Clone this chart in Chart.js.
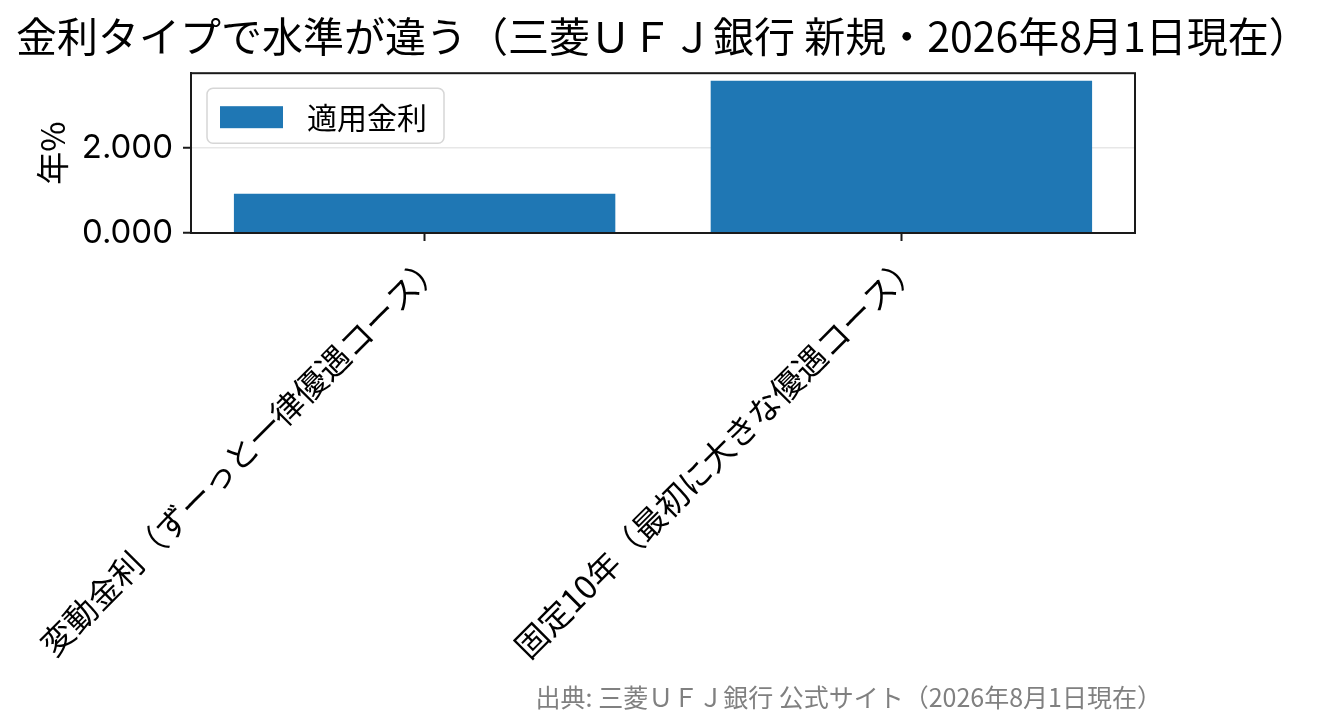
<!DOCTYPE html>
<html><head><meta charset="utf-8">
<script src="https://cdn.jsdelivr.net/npm/chart.js@4"></script>
<style>html,body{margin:0;padding:0;background:#fff;} #wrap{width:1327px;height:725px;position:relative;}</style>
</head><body><div id="wrap"><canvas id="c" width="1327" height="725"></canvas></div>
<script>
const categories = ['変動金利（ずーっと一律優遇コース）', '固定10年（最初に大きな優遇コース）'];
const rates = [0.925, 3.59];
const seriesLabel = '適用金利';
const yTicks = [0, 2];
const titleText = '金利タイプで水準が違う（三菱ＵＦＪ銀行 新規・2026年8月1日現在）';
const yAxisTitle = '年%';
const sourceText = '出典: 三菱ＵＦＪ銀行 公式サイト（2026年8月1日現在）';

const FONT = "'Noto Sans CJK JP', 'Noto Sans', sans-serif";
const NUM_FONT = "Inter, 'Noto Sans CJK JP', sans-serif";
const BAR_COLOR = '#1f77b4';
const SPINE = '#1a1a1a';

const points = categories.map((c, i) => ({x: i, y: rates[i]}));

const framePlugin = {
  id: 'frameAndExtras',
  afterDraw(chart) {
    const ctx = chart.ctx;
    const a = chart.chartArea;
    ctx.save();
    // spines
    ctx.strokeStyle = SPINE;
    ctx.lineWidth = 2;
    ctx.strokeRect(a.left, a.top, a.right - a.left, a.bottom - a.top);
    // legend box
    const lx = a.left + 16, ly = a.top + 15, lw = 237, lh = 55, r = 6;
    ctx.beginPath();
    ctx.moveTo(lx + r, ly);
    ctx.arcTo(lx + lw, ly, lx + lw, ly + lh, r);
    ctx.arcTo(lx + lw, ly + lh, lx, ly + lh, r);
    ctx.arcTo(lx, ly + lh, lx, ly, r);
    ctx.arcTo(lx, ly, lx + lw, ly, r);
    ctx.closePath();
    ctx.fillStyle = 'rgba(255,255,255,0.8)';
    ctx.fill();
    ctx.strokeStyle = '#d6d6d6';
    ctx.lineWidth = 1.5;
    ctx.stroke();
    const ds = chart.data.datasets[0];
    ctx.fillStyle = ds.backgroundColor;
    ctx.fillRect(lx + 13, ly + 18, 63, 22);
    ctx.fillStyle = '#000';
    ctx.font = '30px ' + FONT;
    ctx.textAlign = 'left';
    ctx.textBaseline = 'middle';
    ctx.fillText(ds.label, lx + 100, ly + 29);
    // source note
    ctx.fillStyle = '#808080';
    ctx.font = '25px ' + FONT;
    ctx.textAlign = 'right';
    ctx.fillText(sourceText, 1162, 697);
    ctx.restore();
  }
};

new Chart(document.getElementById('c'), {
  type: 'bar',
  data: {
    datasets: [{
      label: seriesLabel,
      data: points,
      backgroundColor: BAR_COLOR,
      borderWidth: 0,
      barPercentage: 0.8,
      categoryPercentage: 1.0
    }]
  },
  options: {
    responsive: false,
    devicePixelRatio: 1,
    animation: false,
    layout: {padding: {left: 16, right: 10, top: 0, bottom: 0}},
    plugins: {
      legend: {display: false},
      tooltip: {enabled: false},
      title: {
        display: true,
        text: titleText,
        align: 'start',
        color: '#000',
        font: {family: FONT, size: 41, weight: 'normal', lineHeight: 1.2},
        padding: {top: 12, bottom: 12}
      }
    },
    scales: {
      x: {
        type: 'linear',
        min: -0.49,
        max: 1.49,
        offset: false,
        afterBuildTicks(scale) { scale.ticks = categories.map((c, i) => ({value: i})); },
        afterFit(scale) { scale.height = 725 - 233; scale.paddingLeft = 0; scale.paddingRight = 0; },
        grid: {offset: false, drawOnChartArea: false, drawTicks: true, tickLength: 8, tickColor: SPINE, tickWidth: 2},
        border: {display: true, color: SPINE, width: 2},
        ticks: {
          autoSkip: false,
          minRotation: 45,
          maxRotation: 45,
          padding: 4,
          labelOffset: 12,
          color: '#000',
          font: {family: FONT, size: 32.5, lineHeight: 1.2},
          callback: (v) => categories[v]
        }
      },
      y: {
        min: 0,
        max: Math.max(...rates) * 1.05,
        z: 1,
        afterBuildTicks(scale) { scale.ticks = yTicks.map(v => ({value: v})); },
        afterFit(scale) { scale.width = 175; },
        grid: {color: 'rgba(176,176,176,0.3)', lineWidth: 1.5, drawTicks: true, tickLength: 8, tickColor: SPINE, tickWidth: 2},
        border: {display: true, color: SPINE, width: 2},
        ticks: {
          padding: 10,
          color: '#000',
          font: {family: NUM_FONT, size: 33, lineHeight: 1.2},
          callback: (v) => v.toFixed(3)
        },
        title: {
          display: true,
          text: yAxisTitle,
          color: '#000',
          font: {family: FONT, size: 33, lineHeight: 1.2},
          padding: {top: 17, bottom: 0}
        }
      },
      yRight: {
        position: 'right',
        display: true,
        grid: {display: false, drawTicks: false},
        border: {display: false},
        ticks: {display: false},
        afterFit(scale) { scale.width = 182; }
      }
    }
  },
  plugins: [framePlugin]
});
</script>
</body></html>
